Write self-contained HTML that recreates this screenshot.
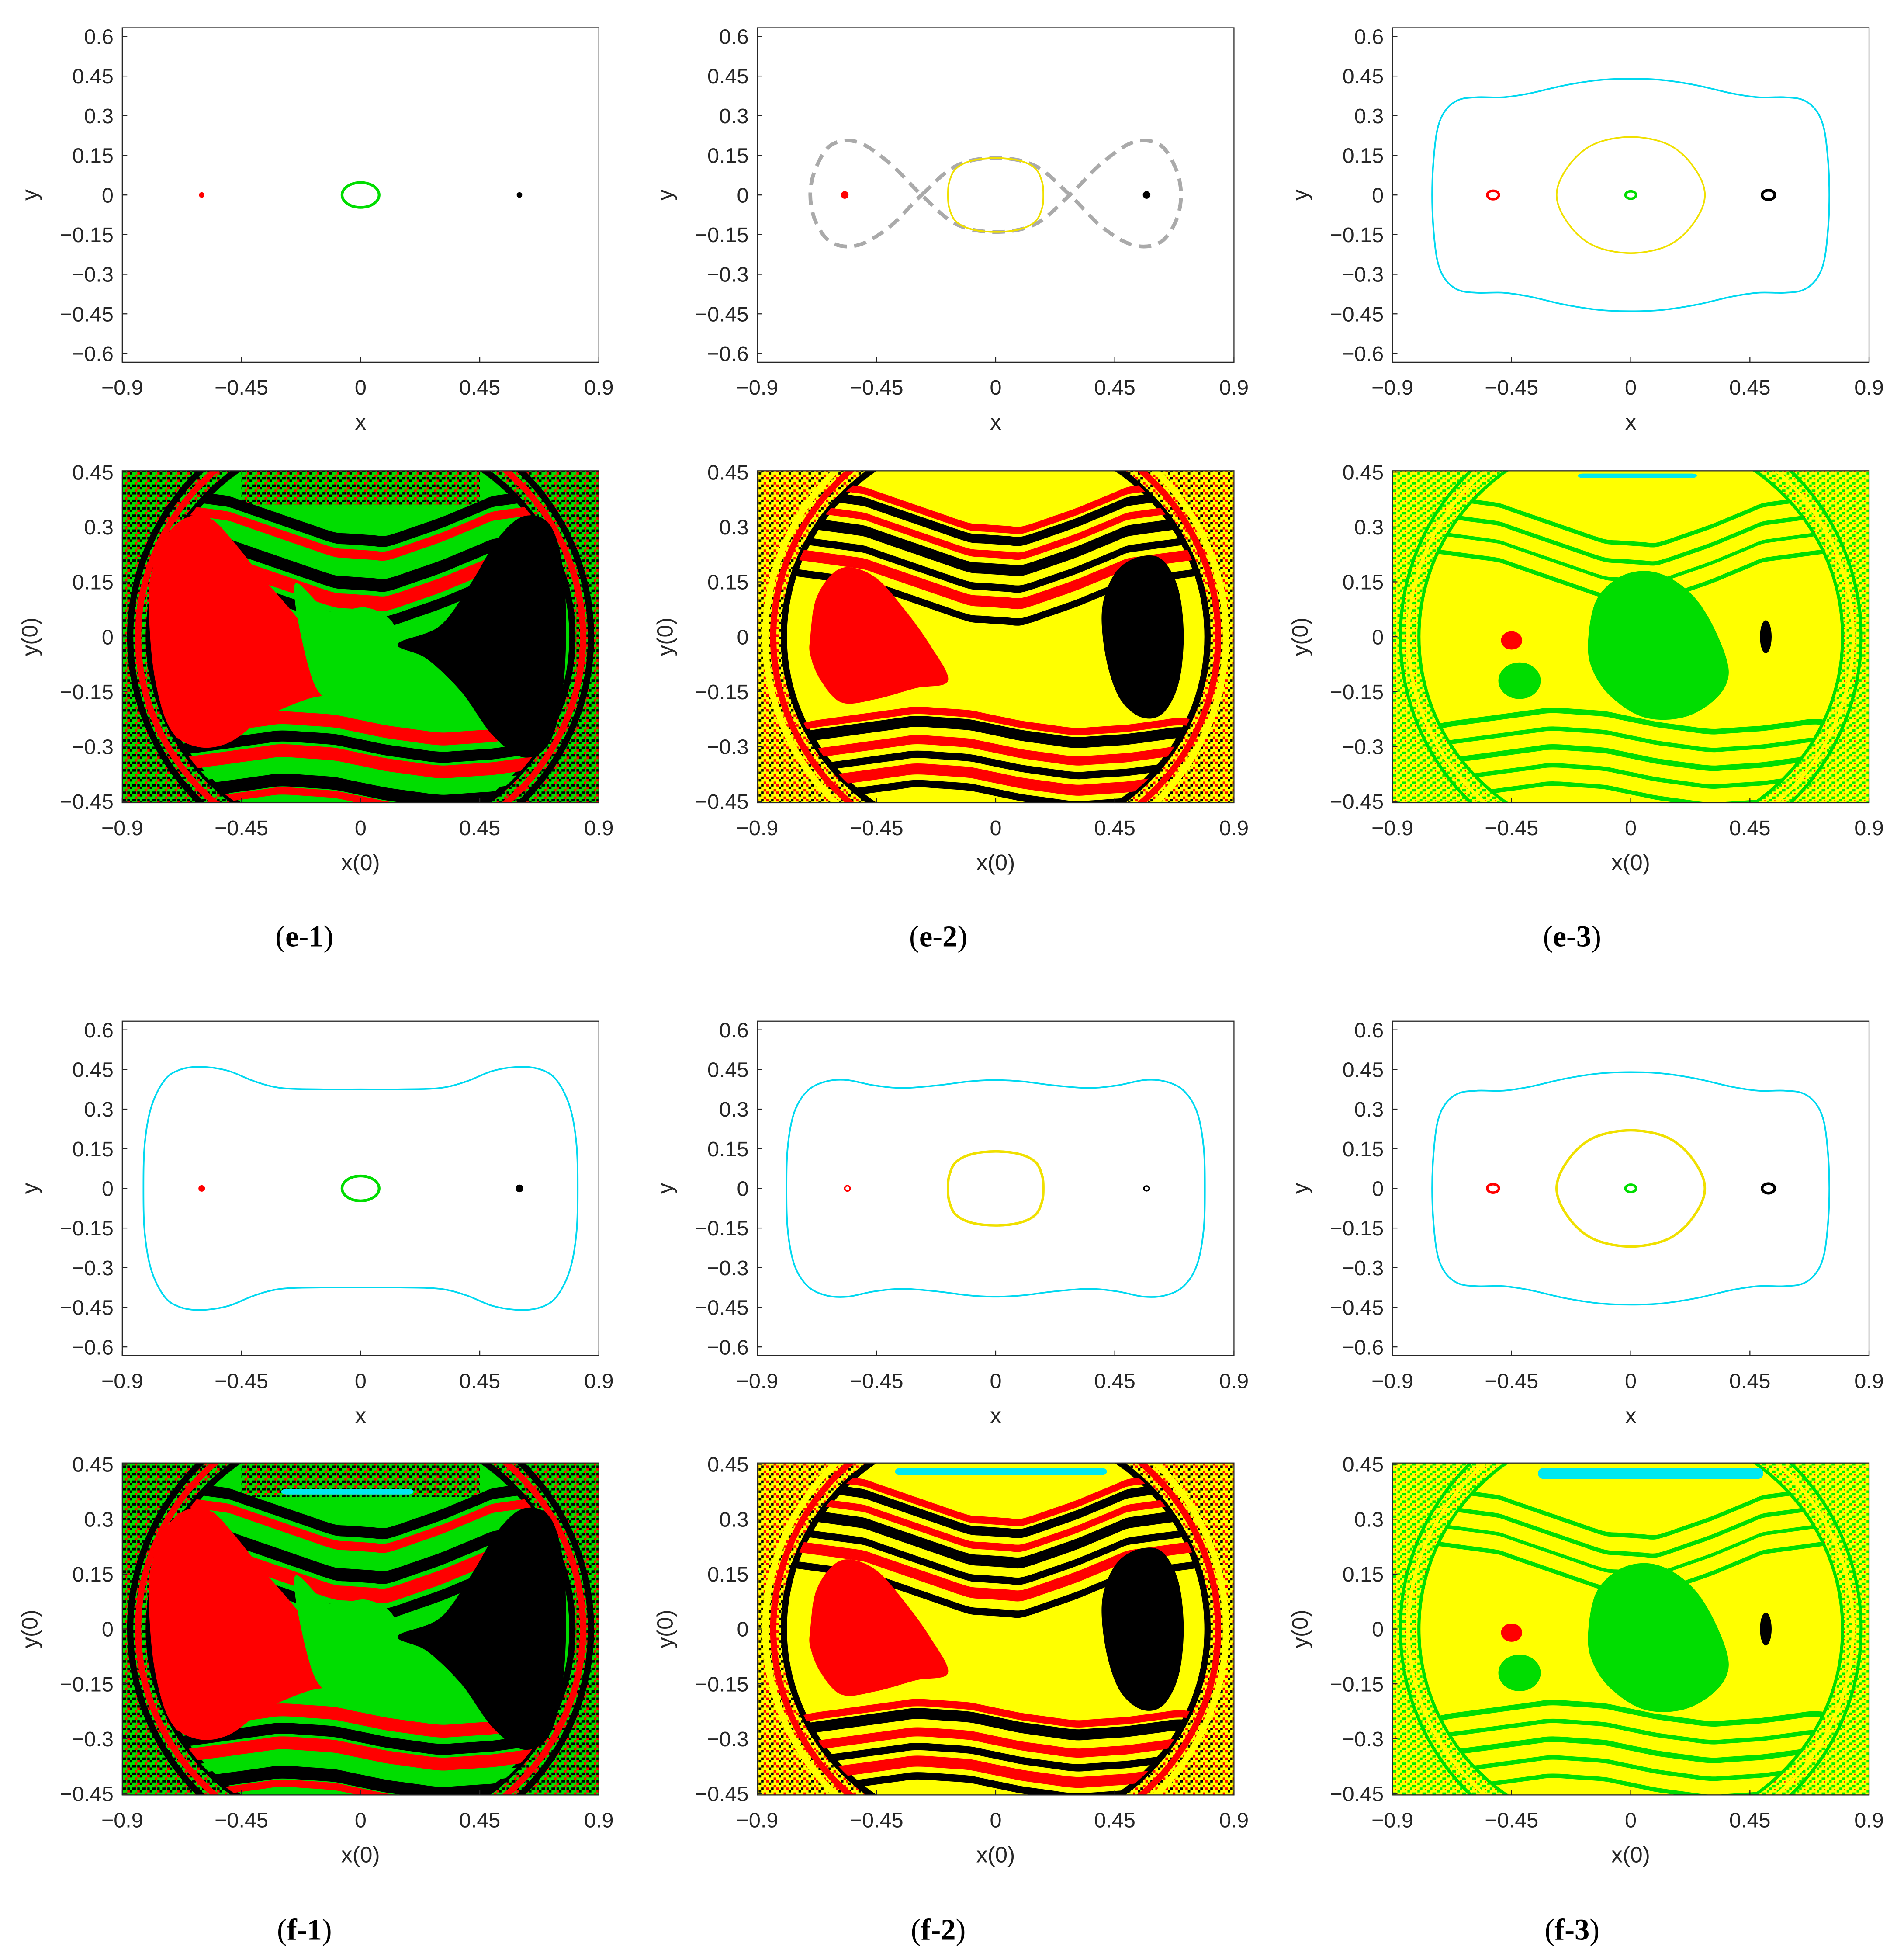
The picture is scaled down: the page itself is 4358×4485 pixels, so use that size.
<!DOCTYPE html>
<html><head><meta charset="utf-8"><style>
html,body{margin:0;padding:0;background:#fff;}
svg{display:block;}
text{font-family:"Liberation Sans",sans-serif;}
</style></head><body>
<svg id="fig" width="4358" height="4485" viewBox="0 0 1526 1570" xmlns="http://www.w3.org/2000/svg">
<defs>
<pattern id="noiseA" width="8" height="6" patternUnits="userSpaceOnUse">
<rect width="8" height="6" fill="#00e000"/><rect x="0" y="0" width="2" height="2" fill="#000"/><rect x="4" y="2" width="2" height="2" fill="#f00"/><rect x="2" y="4" width="3" height="2" fill="#000"/><rect x="6" y="0" width="2" height="2" fill="#f00"/><rect x="6" y="4" width="2" height="2" fill="#000"/>
</pattern>
<pattern id="noiseB" width="8" height="6" patternUnits="userSpaceOnUse">
<rect width="8" height="6" fill="#ff0"/><rect x="0" y="0" width="2" height="2" fill="#000"/><rect x="4" y="2" width="2" height="2" fill="#f00"/><rect x="2" y="4" width="2" height="2" fill="#000"/><rect x="6" y="4" width="2" height="2" fill="#f00"/>
</pattern>
<pattern id="noiseC" width="8" height="6" patternUnits="userSpaceOnUse">
<rect width="8" height="6" fill="#ff0"/><rect x="0" y="0" width="2" height="2" fill="#0e0"/><rect x="4" y="2" width="3" height="2" fill="#0e0"/><rect x="2" y="4" width="2" height="2" fill="#0e0"/><rect x="6" y="5" width="1" height="1" fill="#f00"/>
</pattern>
</defs>
<g id="content"></g>
<text x="244" y="758" text-anchor="middle" font-size="24" style="font-family:'Liberation Serif',serif">(<tspan font-weight="bold">e-1</tspan>)</text>
<text x="752" y="758" text-anchor="middle" font-size="24" style="font-family:'Liberation Serif',serif">(<tspan font-weight="bold">e-2</tspan>)</text>
<text x="1260" y="758" text-anchor="middle" font-size="24" style="font-family:'Liberation Serif',serif">(<tspan font-weight="bold">e-3</tspan>)</text>
<text x="244" y="1554" text-anchor="middle" font-size="24" style="font-family:'Liberation Serif',serif">(<tspan font-weight="bold">f-1</tspan>)</text>
<text x="752" y="1554" text-anchor="middle" font-size="24" style="font-family:'Liberation Serif',serif">(<tspan font-weight="bold">f-2</tspan>)</text>
<text x="1260" y="1554" text-anchor="middle" font-size="24" style="font-family:'Liberation Serif',serif">(<tspan font-weight="bold">f-3</tspan>)</text>
</svg>
<script>
// ---- data ----
const xTicks = [-0.9, -0.45, 0, 0.45, 0.9];
const xTickLabels = ["\u22120.9", "\u22120.45", "0", "0.45", "0.9"];
const yTicksPhase = [0.6, 0.45, 0.3, 0.15, 0, -0.15, -0.3, -0.45, -0.6];
const yTickLabelsPhase = ["0.6","0.45","0.3","0.15","0","\u22120.15","\u22120.3","\u22120.45","\u22120.6"];
const yTicksBasin = [0.45, 0.3, 0.15, 0, -0.15, -0.3, -0.45];
const yTickLabelsBasin = ["0.45","0.3","0.15","0","\u22120.15","\u22120.3","\u22120.45"];

const cyanE3X = [-0.75,-0.745,-0.73,-0.7,-0.65,-0.58,-0.48,-0.38,-0.25,-0.12,0];
const cyanE3Y = [0,0.13,0.25,0.32,0.36,0.37,0.37,0.385,0.415,0.435,0.44];
const cyanF1X = [-0.82,-0.815,-0.79,-0.74,-0.68,-0.6,-0.5,-0.4,-0.3,-0.15,0];
const cyanF1Y = [0,0.17,0.31,0.41,0.45,0.46,0.445,0.405,0.38,0.375,0.375];
const cyanF2X = [-0.79,-0.785,-0.76,-0.71,-0.64,-0.56,-0.46,-0.35,-0.22,-0.1,0];
const cyanF2Y = [0,0.16,0.29,0.37,0.405,0.41,0.39,0.38,0.39,0.405,0.41];
const yelBigX = [-0.28,-0.26,-0.2,-0.12,0];
const yelBigY = [0,0.07,0.15,0.2,0.22];
const yelSmallX = [-0.18,-0.175,-0.15,-0.09,0];
const yelSmallY = [0,0.05,0.1,0.13,0.14];
const fig8X = [-0.28,-0.15,0,0.15,0.28,0.4,0.52,0.62,0.68,0.7,0.68,0.62,0.52,0.4,0.28,0.15,0,-0.15,-0.28,-0.4,-0.52,-0.62,-0.68,-0.7,-0.68,-0.62,-0.52,-0.4,-0.28];
const fig8Y = [0,0.11,0.14,0.11,0,-0.12,-0.19,-0.18,-0.1,0,0.1,0.19,0.2,0.12,0,-0.11,-0.14,-0.11,0,0.12,0.2,0.19,0.1,0,-0.1,-0.18,-0.19,-0.12,0];
const smallE1 = [[-0.6,0,0.008,0.008,"#f00",1,1],[0.6,0,0.008,0.008,"#000",1,1],[0,0,0.07,0.047,"#0d0",2.2,0]];
const smallE2 = [[-0.57,0,0.012,0.012,"#f00",1,1],[0.57,0,0.012,0.012,"#000",1,1]];
const smallE3 = [[-0.52,0,0.022,0.016,"#f00",2,0],[0,0,0.02,0.014,"#0d0",2,0],[0.52,0,0.024,0.018,"#000",2.2,0]];
const smallF1 = [[-0.6,0,0.01,0.01,"#f00",1,1],[0.6,0,0.012,0.012,"#000",1,1],[0,0,0.07,0.047,"#0d0",2.2,0]];
const smallF2 = [[-0.56,0,0.01,0.01,"#f00",1.2,0],[0.57,0,0.01,0.009,"#000",1.2,0]];

const profX = [-0.9,-0.7,-0.5,-0.3,-0.1,0.1,0.3,0.5,0.7,0.9];
const profUp = [0.04,0.02,0,-0.05,-0.1,-0.11,-0.06,0,0.02,0.04];
const profLo = [-0.06,-0.02,0,0.02,0.01,-0.02,-0.04,-0.03,-0.01,-0.04];
const bandsAUp = [[0.37,0.03,"#000"],[0.33,0.025,"#f00"],[0.29,0.03,"#0d0"],[0.25,0.035,"#000"],[0.2,0.04,"#f00"],[0.15,0.03,"#000"]];
const bandsALo = [[-0.2,0.03,"#0d0"],[-0.24,0.035,"#f00"],[-0.29,0.03,"#000"],[-0.33,0.035,"#f00"],[-0.37,0.025,"#0d0"],[-0.41,0.035,"#000"],[-0.44,0.02,"#f00"]];
const bandsBUp = [[0.4,0.02,"#f00"],[0.37,0.025,"#000"],[0.33,0.02,"#f00"],[0.29,0.03,"#000"],[0.24,0.02,"#000"],[0.2,0.03,"#f00"],[0.15,0.02,"#000"]];
const bandsBLo = [[-0.22,0.02,"#f00"],[-0.25,0.03,"#000"],[-0.3,0.025,"#f00"],[-0.34,0.02,"#000"],[-0.38,0.03,"#f00"],[-0.42,0.02,"#000"]];
const bandsCUp = [[0.36,0.012,"#0d0"],[0.31,0.012,"#0d0"],[0.26,0.01,"#0d0"],[0.21,0.012,"#0d0"]];
const bandsCLo = [[-0.22,0.015,"#0d0"],[-0.27,0.012,"#0d0"],[-0.32,0.015,"#0d0"],[-0.37,0.012,"#0d0"],[-0.42,0.012,"#0d0"]];
const redLobeAX = [-0.8,-0.78,-0.72,-0.64,-0.56,-0.48,-0.38,-0.26,-0.14,-0.04,-0.2,-0.36,-0.5,-0.62,-0.72,-0.78];
const redLobeAY = [0.1,0.2,0.29,0.33,0.32,0.26,0.17,0.07,-0.04,-0.14,-0.17,-0.22,-0.29,-0.3,-0.25,-0.1];
const greenMidAX = [-0.25,-0.12,0.02,0.12,0.15,0.08,0.2,0.05,-0.08,-0.18];
const greenMidAY = [0.14,0.07,0.08,0.04,-0.05,-0.09,-0.15,-0.17,-0.18,-0.12];
const blackLobeAX = [0.14,0.3,0.42,0.52,0.62,0.72,0.77,0.77,0.72,0.62,0.5,0.38,0.25];
const blackLobeAY = [-0.02,0.03,0.15,0.27,0.33,0.3,0.15,-0.1,-0.28,-0.33,-0.27,-0.15,-0.06];
const redLobeBX = [-0.7,-0.68,-0.62,-0.55,-0.45,-0.35,-0.25,-0.18,-0.3,-0.45,-0.58,-0.66,-0.7];
const redLobeBY = [0.0,0.1,0.17,0.19,0.16,0.08,-0.02,-0.12,-0.14,-0.17,-0.18,-0.12,-0.05];
const blackLobeBX = [0.4,0.42,0.47,0.55,0.63,0.69,0.71,0.69,0.63,0.55,0.47,0.42];
const blackLobeBY = [0.05,0.13,0.19,0.22,0.21,0.13,0,-0.13,-0.21,-0.22,-0.17,-0.07];
const greenBlobCX = [-0.16,-0.13,-0.05,0.05,0.15,0.25,0.33,0.37,0.32,0.2,0.05,-0.08,-0.15];
const greenBlobCY = [0,0.1,0.16,0.18,0.16,0.1,0.0,-0.1,-0.17,-0.22,-0.22,-0.16,-0.08];
const stripE3 = [-0.2,0.25,0.44,0.012];
const stripF1 = [-0.3,0.2,0.375,0.015];
const stripF2 = [-0.38,0.42,0.43,0.02];
const stripF3 = [-0.35,0.5,0.425,0.03];

// ---- drawing ----
const NS = 'http://www.w3.org/2000/svg';
const root = document.getElementById('content');
function mk(tag, attrs, parent){ const e=document.createElementNS(NS,tag); for(const k in attrs) e.setAttribute(k,attrs[k]); (parent||root).appendChild(e); return e; }

const colX = [98, 607, 1116], PW = 382;
function makeAxes(col, top, h, ymaxData, pxPerUnitY){
  const x0 = colX[col];
  const sx = v => x0 + (v + 0.9) / 1.8 * PW;
  const cy = top + h/2;
  const sy = v => cy - v * pxPerUnitY;
  return {x0, top, h, sx, sy};
}
function smoothFrom(xs, ys, ax, closed){
  const P = xs.map((x,i)=>[ax.sx(x), ax.sy(ys[i])]);
  const n = P.length;
  const get = i => closed ? P[(i+n)%n] : P[Math.max(0,Math.min(n-1,i))];
  let d = 'M'+P[0][0].toFixed(2)+' '+P[0][1].toFixed(2);
  const last = closed ? n : n-1;
  for(let i=0;i<last;i++){
    const p0=get(i-1),p1=get(i),p2=get(i+1),p3=get(i+2);
    const c1=[p1[0]+(p2[0]-p0[0])/6,p1[1]+(p2[1]-p0[1])/6];
    const c2=[p2[0]-(p3[0]-p1[0])/6,p2[1]-(p3[1]-p1[1])/6];
    d+='C'+c1[0].toFixed(2)+' '+c1[1].toFixed(2)+' '+c2[0].toFixed(2)+' '+c2[1].toFixed(2)+' '+p2[0].toFixed(2)+' '+p2[1].toFixed(2);
  }
  return d + (closed?'Z':'');
}
function mirrorClosed(qx, qy){
  const xs=[], ys=[];
  for(let i=0;i<qx.length;i++){xs.push(qx[i]);ys.push(qy[i]);}
  for(let i=qx.length-2;i>=0;i--){xs.push(-qx[i]);ys.push(qy[i]);}
  for(let i=1;i<qx.length;i++){xs.push(-qx[i]);ys.push(-qy[i]);}
  for(let i=qx.length-2;i>0;i--){xs.push(qx[i]);ys.push(-qy[i]);}
  return [xs,ys];
}
function interp(arrX, arrY, x){
  for(let i=0;i<arrX.length-1;i++){ if(x<=arrX[i+1]){ const t=(x-arrX[i])/(arrX[i+1]-arrX[i]); return arrY[i]+t*(arrY[i+1]-arrY[i]); } }
  return arrY[arrY.length-1];
}
function drawFrame(ax, g, yTicks, yLabels, xlabel, ylabel){
  const fr = mk('rect',{x:ax.x0,y:ax.top,width:PW,height:ax.h,fill:'none',stroke:'#262626','stroke-width':0.8},g);
  
  
  xTicks.forEach((v,i)=>{
    const x=ax.sx(v);
    const t = mk('line',{x1:x,x2:x,y1:ax.top+ax.h,y2:ax.top+ax.h-4,stroke:'#262626','stroke-width':0.8},g);
    
    
    const l = mk('text',{x:x,y:ax.top+ax.h+26,'text-anchor':'middle','font-size':17,fill:'#262626'},g);
    l.textContent = xTickLabels[i];
    
    
  });
  yTicks.forEach((v,i)=>{
    const y=ax.sy(v);
    const t = mk('line',{x1:ax.x0,x2:ax.x0+4,y1:y,y2:y,stroke:'#262626','stroke-width':0.8},g);
    
    
    const l = mk('text',{x:ax.x0-7,y:y+6,'text-anchor':'end','font-size':17,fill:'#262626'},g);
    l.textContent = yLabels[i];
    
    
  });
  const xl = mk('text',{x:ax.sx(0),y:ax.top+ax.h+54,'text-anchor':'middle','font-size':18,fill:'#262626'},g);
  xl.textContent = xlabel;
  
  
  const yy = ax.sy(0);
  const yl = mk('text',{x:ax.x0-68,y:yy,'text-anchor':'middle','font-size':18,fill:'#262626',transform:'rotate(-90 '+(ax.x0-68)+' '+yy+')'},g);
  yl.textContent = ylabel;
  
  
}

function phasePanel(col, top, name, cyan, yel, small, fig8){
  const ax = makeAxes(col, top, 268, 0.63, 211.7);
  const g = mk('g',{});
  
  
  if(cyan){
    const [xs,ys]=mirrorClosed(cyan[0],cyan[1]);
    const p = mk('path',{d:smoothFrom(xs,ys,ax,true),fill:'none',stroke:'#00d8f0','stroke-width':1.3},g);
    
    
  }
  if(fig8){
    const p = mk('path',{d:smoothFrom(fig8X.slice(0,-1),fig8Y.slice(0,-1),ax,true),fill:'none',stroke:'#aaa','stroke-width':3,'stroke-dasharray':'10 6'},g);
    
    
  }
  if(yel){
    const [xs,ys]=mirrorClosed(yel[0],yel[1]);
    const p = mk('path',{d:smoothFrom(xs,ys,ax,true),fill:'none',stroke:'#f0e000','stroke-width':yel[2]},g);
    
    
  }
  small.forEach(s=>{
    const e = mk('ellipse',{cx:ax.sx(s[0]),cy:ax.sy(s[1]),rx:Math.max(1.5,ax.sx(s[2])-ax.sx(0)),ry:Math.max(1.5,ax.sy(0)-ax.sy(s[3])),fill:s[6]?s[4]:'none',stroke:s[4],'stroke-width':s[5]},g);
    
    
  });
  drawFrame(ax,g,yTicksPhase,yTickLabelsPhase,'x','y');
}

function band(ax, g, b, prof, clipId){
  const xs=[], ys=[];
  const n=40;
  for(let i=0;i<=n;i++){const x=-0.9+1.8*i/n; xs.push(x); ys.push(b[0]+interp(profX,prof,x)+b[1]/2);}
  for(let i=n;i>=0;i--){const x=-0.9+1.8*i/n; xs.push(x); ys.push(b[0]+interp(profX,prof,x)-b[1]/2);}
  const p = mk('path',{d:smoothFrom(xs,ys,ax,false)+'Z',fill:b[2],'clip-path':'url(#'+clipId+')'},g);
  
  
}
function poly(ax,g,xs,ys,color,name){
  const p = mk('path',{d:smoothFrom(xs,ys,ax,true),fill:color},g);
  
  
}
let clipN=0;
function basinPanel(col, top, name, type, strip){
  const ax = makeAxes(col, top, 266, 0.453, 293.3);
  const g = mk('g',{});
  
  
  const cid='clip'+(clipN++);
  const cp = mk('clipPath',{id:cid},g);
  mk('rect',{x:ax.x0,y:ax.top,width:PW,height:ax.h},cp);
  const eid='eclip'+(clipN++);
  const ep = mk('clipPath',{id:eid},g);
  mk('ellipse',{cx:ax.sx(0),cy:ax.sy(0),rx:ax.sx(0.8)-ax.sx(0),ry:ax.sy(0)-ax.sy(0.56)},ep);
  const gc = mk('g',{'clip-path':'url(#'+cid+')'},g);
  
  
  const bg = mk('rect',{x:ax.x0,y:ax.top,width:PW,height:ax.h,fill:'url(#noise'+type+')'},gc);
  
  
  const inner = type==='A'?'#0d0':'#ff0';
  const ie = mk('ellipse',{cx:ax.sx(0),cy:ax.sy(0),rx:ax.sx(0.8)-ax.sx(0),ry:ax.sy(0)-ax.sy(0.56),fill:inner},gc);
  
  
  const ringCols = type==='A'?['#000','#f00','#000']:type==='B'?['#000','#f00','#ff0']:['#0d0','#ff0','#0d0'];
  const ringR = [0.8,0.84,0.87];
  ringR.forEach((r,i)=>{
    const e = mk('ellipse',{cx:ax.sx(0),cy:ax.sy(0),rx:ax.sx(r)-ax.sx(0),ry:ax.sy(0)-ax.sy(0.56+r-0.8),fill:'none',stroke:ringCols[i],'stroke-width':type==='C'?2.5:5},gc);
    
    
  });
  if(type==='A'){
    const topNoise = mk('rect',{x:ax.sx(-0.45),y:ax.top,width:ax.sx(0.45)-ax.sx(-0.45),height:ax.sy(0.36)-ax.top,fill:'url(#noiseA)','clip-path':'url(#'+eid+')'},gc);
    
    
  }
  const up = type==='A'?bandsAUp:type==='B'?bandsBUp:bandsCUp;
  const lo = type==='A'?bandsALo:type==='B'?bandsBLo:bandsCLo;
  up.forEach(b=>band(ax,gc,b,profUp,eid));
  lo.forEach(b=>band(ax,gc,b,profLo,eid));
  if(type==='A'){
    poly(ax,gc,redLobeAX,redLobeAY,'#f00','red-basin');
    poly(ax,gc,greenMidAX,greenMidAY,'#0d0','green-basin');
    poly(ax,gc,blackLobeAX,blackLobeAY,'#000','black-basin');
  } else if(type==='B'){
    poly(ax,gc,redLobeBX,redLobeBY,'#f00','red-basin');
    poly(ax,gc,blackLobeBX,blackLobeBY,'#000','black-basin');
  } else {
    poly(ax,gc,greenBlobCX,greenBlobCY,'#0d0','green-basin');
    const r = mk('ellipse',{cx:ax.sx(-0.45),cy:ax.sy(-0.01),rx:ax.sx(0.04)-ax.sx(0),ry:ax.sy(0)-ax.sy(0.025),fill:'#f00'},gc);
    
    
    const gb = mk('ellipse',{cx:ax.sx(-0.42),cy:ax.sy(-0.12),rx:ax.sx(0.08)-ax.sx(0),ry:ax.sy(0)-ax.sy(0.05),fill:'#0d0'},gc);
    
    
    const k = mk('ellipse',{cx:ax.sx(0.51),cy:ax.sy(0),rx:ax.sx(0.022)-ax.sx(0),ry:ax.sy(0)-ax.sy(0.045),fill:'#000'},gc);
    
    
  }
  if(strip){
    const s = mk('rect',{x:ax.sx(strip[0]),y:ax.sy(strip[2]+strip[3]/2),width:ax.sx(strip[1])-ax.sx(strip[0]),height:ax.sy(0)-ax.sy(strip[3]),rx:4,fill:'#00e8f0'},gc);
    
    
  }
  drawFrame(ax,g,yTicksBasin,yTickLabelsBasin,'x(0)','y(0)');
}

phasePanel(0,22,'phase-portrait-e1',null,null,smallE1,false);
phasePanel(1,22,'phase-portrait-e2',null,[yelSmallX,yelSmallY,1.3],smallE2,true);
phasePanel(2,22,'phase-portrait-e3',[cyanE3X,cyanE3Y],[yelBigX,yelBigY,1.3],smallE3,false);
basinPanel(0,377,'basin-e1','A',null);
basinPanel(1,377,'basin-e2','B',null);
basinPanel(2,377,'basin-e3','C',stripE3);
phasePanel(0,818,'phase-portrait-f1',[cyanF1X,cyanF1Y],null,smallF1,false);
phasePanel(1,818,'phase-portrait-f2',[cyanF2X,cyanF2Y],[yelSmallX,yelSmallY,2],smallF2,false);
phasePanel(2,818,'phase-portrait-f3',[cyanE3X,cyanE3Y],[yelBigX,yelBigY,2],smallE3,false);
basinPanel(0,1172,'basin-f1','A',stripF1);
basinPanel(1,1172,'basin-f2','B',stripF2);
basinPanel(2,1172,'basin-f3','C',stripF3);
</script>
</body></html>
